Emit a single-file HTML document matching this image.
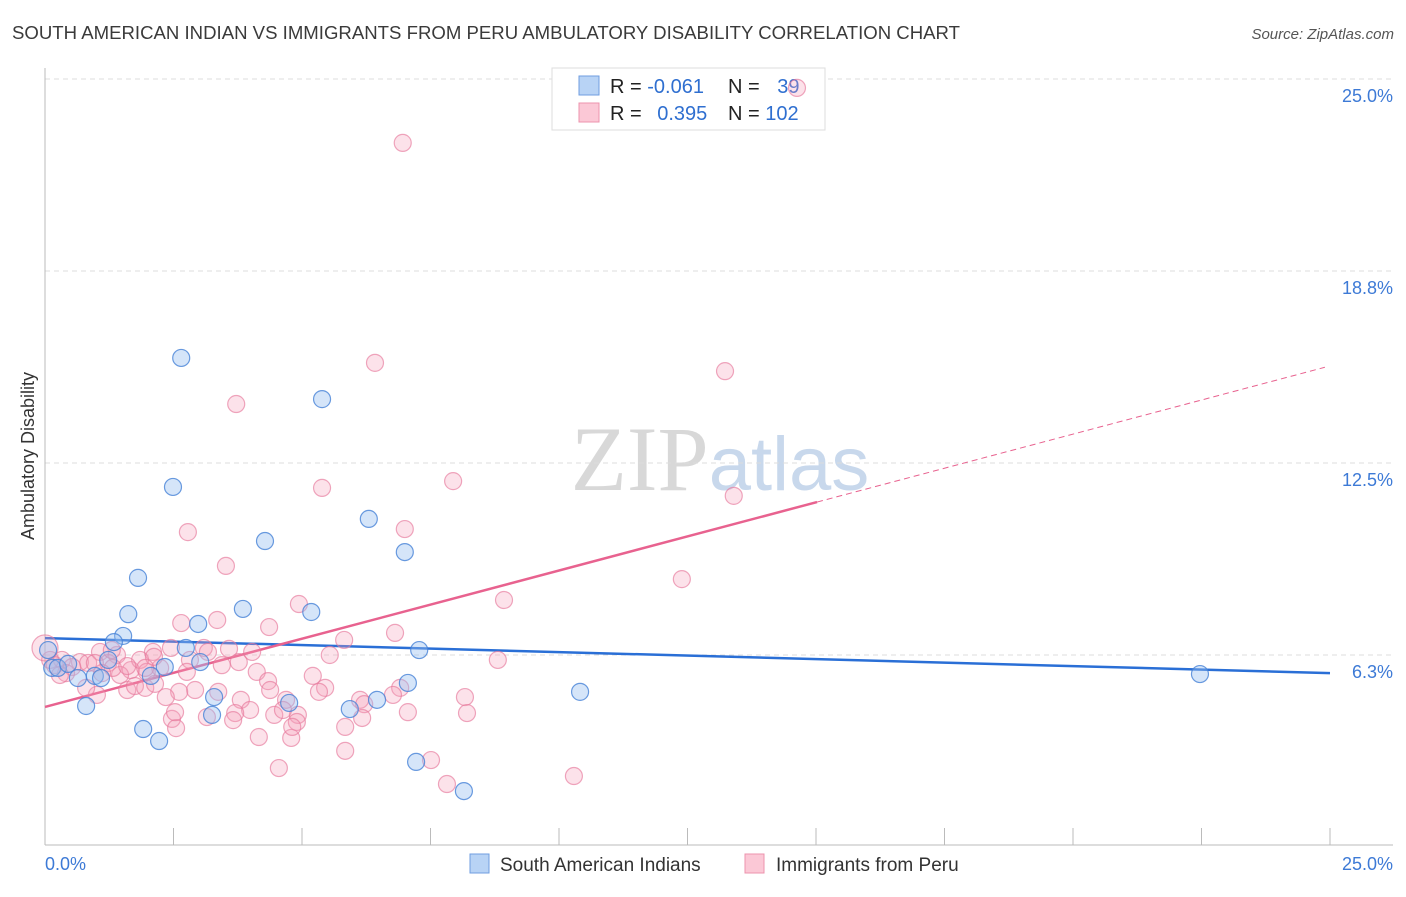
<!DOCTYPE html>
<html><head><meta charset="utf-8"><style>
body{margin:0;background:#fff;font-family:"Liberation Sans",sans-serif;}
svg text{font-family:"Liberation Sans",sans-serif;}
</style></head><body>
<svg id="chart" width="1406" height="892" xmlns="http://www.w3.org/2000/svg">
<text x="12" y="39" font-size="18" fill="#3a3a3a" textLength="948" lengthAdjust="spacingAndGlyphs">SOUTH AMERICAN INDIAN VS IMMIGRANTS FROM PERU AMBULATORY DISABILITY CORRELATION CHART</text>
<text x="1394" y="39" font-size="15" fill="#555" text-anchor="end" font-style="italic">Source: ZipAtlas.com</text>
<text x="720" y="490" font-size="92" fill="#ddd" text-anchor="middle" font-family="Liberation Serif"><tspan fill="#d8d8d8" font-family="Liberation Serif">ZIP</tspan><tspan fill="#c8d8ec" font-family="Liberation Sans" font-size="76">atlas</tspan></text>
<g id="grid"></g>
<g id="axes"></g>
<g>
<rect x="552" y="68" width="273" height="62" fill="#fff" stroke="#ddd"/>
<rect x="579" y="76" width="20" height="19" fill="#b8d3f5" stroke="#6f9ee0"/>
<rect x="579" y="103" width="20" height="19" fill="#fbc8d6" stroke="#ec93ad"/>
<text x="610" y="93" font-size="20" fill="#222">R = <tspan fill="#2f6fd0">-0.061</tspan></text>
<text x="728" y="93" font-size="20" fill="#222">N = <tspan fill="#2f6fd0" dx="12">39</tspan></text>
<text x="610" y="120" font-size="20" fill="#222">R = <tspan fill="#2f6fd0" dx="10">0.395</tspan></text>
<text x="728" y="120" font-size="20" fill="#222">N = <tspan fill="#2f6fd0">102</tspan></text>
</g>
<g id="trends"></g>
<g id="points"></g>
<text transform="translate(34,456) rotate(-90)" font-size="18" fill="#333" text-anchor="middle">Ambulatory Disability</text>
<g>
<rect x="470" y="854" width="19" height="19" fill="#b8d3f5" stroke="#6f9ee0"/>
<text x="500" y="871" font-size="19" fill="#333">South American Indians</text>
<rect x="745" y="854" width="19" height="19" fill="#fbc8d6" stroke="#ec93ad"/>
<text x="776" y="871" font-size="19" fill="#333">Immigrants from Peru</text>
</g>
</svg>
<script>
const yTicks=[6.3,12.5,18.8,25.0];
const yTickVals=[6.25,12.5,18.75,25];
const xTickLabels=["0.0%","25.0%"];
const blueX=[2.65,5.39,2.49,6.30,4.28,7.00,1.81,1.62,3.85,5.18,2.98,1.52,1.34,2.74,7.28,1.23,3.02,2.33,0.14,0.25,0.45,0.64,0.97,1.09,2.06,3.29,4.75,6.46,5.93,7.06,10.41,22.47,0.80,3.25,1.91,2.22,7.22,8.15,0.06];
const blueY=[15.92,14.58,11.72,10.68,9.96,9.60,8.76,7.58,7.75,7.65,7.26,6.87,6.67,6.48,6.41,6.09,6.02,5.86,5.83,5.83,5.96,5.50,5.57,5.50,5.57,4.88,4.69,4.79,4.49,5.34,5.05,5.63,4.59,4.30,3.84,3.45,2.77,1.82,6.41];
const pinkX=[14.63,6.96,6.42,13.23,3.72,5.39,7.94,13.40,2.78,7.00,3.52,12.39,8.93,4.94,2.65,3.35,4.36,6.81,5.82,8.81,5.54,3.58,3.09,2.45,2.10,3.77,3.44,2.82,1.40,1.07,1.23,1.67,2.24,1.85,1.98,0.68,0.84,0.33,0.53,0.41,0.10,0.19,0,4.12,4.34,5.21,5.45,4.38,2.92,2.61,2.35,3.37,3.81,4.69,5.33,6.13,6.91,6.77,6.21,7.06,8.17,8.21,4.92,4.46,3.99,3.70,3.15,2.47,2.55,4.16,4.79,4.90,3.66,5.84,6.17,5.84,7.51,7.82,10.29,4.55,1.01,1.60,1.75,1.95,1.46,1.32,0.80,0.29,0.97,1.30,2.12,4.03,3.17,2.76,1.11,2.14,1.60,1.95,4.81,4.63,2.53];
const pinkY=[24.71,22.92,15.76,15.49,14.42,11.69,11.91,11.43,10.25,10.35,9.15,8.72,8.04,7.91,7.29,7.39,7.16,6.97,6.74,6.09,6.25,6.45,6.48,6.48,6.35,6.02,5.92,6.09,6.25,6.35,5.99,5.76,5.83,6.09,5.70,6.02,5.99,6.09,5.86,5.66,6.09,5.92,6.48,5.70,5.40,5.57,5.18,5.11,5.11,5.05,4.88,5.05,4.79,4.79,5.05,4.79,5.18,4.95,4.65,4.39,4.88,4.36,4.30,4.30,4.46,4.36,4.23,4.17,3.87,3.58,3.55,4.07,4.13,3.91,4.20,3.13,2.83,2.05,2.31,2.57,4.95,5.11,5.24,5.18,5.60,5.83,5.18,5.60,5.99,6.41,6.19,6.35,6.35,5.70,5.66,5.31,5.89,5.83,3.91,4.46,4.39];
const blueTrend=[6.80,-0.0456];
const pinkTrend=[4.56,0.444];
const pinkSolidEnd=15.02, pinkDashEnd=24.9;

const NS="http://www.w3.org/2000/svg";
const X=v=>45+v*51.4;
const Y=v=>847-v*30.72;
function mk(tag,attrs,parent){const e=document.createElementNS(NS,tag);for(const k in attrs)e.setAttribute(k,attrs[k]);document.getElementById(parent).appendChild(e);return e;}
yTickVals.forEach((v,i)=>{
  const l=mk('line',{x1:45,x2:1393,y1:Y(v),y2:Y(v),stroke:'#ddd','stroke-dasharray':'5,4'},'grid');
  
  
  const t=mk('text',{x:1393,y:Y(v)+23,'font-size':18,fill:'#3d7ad6','text-anchor':'end'},'grid');
  t.textContent=yTicks[i].toFixed(1)+'%';
  
  
});
const ax=mk('line',{x1:45,x2:45,y1:68,y2:845,stroke:'#bbb'},'axes');


const bx=mk('line',{x1:45,x2:1393,y1:845,y2:845,stroke:'#bbb'},'axes');


for(let i=0;i<=10;i++){
  const tk=mk('line',{x1:X(i*2.5),x2:X(i*2.5),y1:828,y2:845,stroke:'#bbb'},'axes');
  
  
}
[[0,'start',45],[25,'end',1393]].forEach((d,i)=>{
  const t=mk('text',{x:d[2],y:870,'font-size':18,fill:'#3d7ad6','text-anchor':d[1]},'axes');
  t.textContent=xTickLabels[i];
  
  
});
pinkX.forEach((x,i)=>{
  const c=mk('circle',{cx:X(x),cy:Y(pinkY[i]),r:(x===0?13:8.5),fill:'rgba(245,160,185,0.3)',stroke:'rgba(230,120,155,0.65)','stroke-width':1.2},'points');
  
  
});
blueX.forEach((x,i)=>{
  const c=mk('circle',{cx:X(x),cy:Y(blueY[i]),r:8.5,fill:'rgba(150,190,240,0.4)',stroke:'rgba(70,130,215,0.8)','stroke-width':1.2},'points');
  
  
});
const bt=mk('line',{x1:X(0),y1:Y(blueTrend[0]),x2:X(25),y2:Y(blueTrend[0]+blueTrend[1]*25),stroke:'#2a6fd6','stroke-width':2.5},'trends');


const pt=mk('line',{x1:X(0),y1:Y(pinkTrend[0]),x2:X(pinkSolidEnd),y2:Y(pinkTrend[0]+pinkTrend[1]*pinkSolidEnd),stroke:'#e8628f','stroke-width':2.5},'trends');


const pd=mk('line',{x1:X(pinkSolidEnd),y1:Y(pinkTrend[0]+pinkTrend[1]*pinkSolidEnd),x2:X(pinkDashEnd),y2:Y(pinkTrend[0]+pinkTrend[1]*pinkDashEnd),stroke:'#e8628f','stroke-width':1,'stroke-dasharray':'6,4'},'trends');


</script>
</body></html>
